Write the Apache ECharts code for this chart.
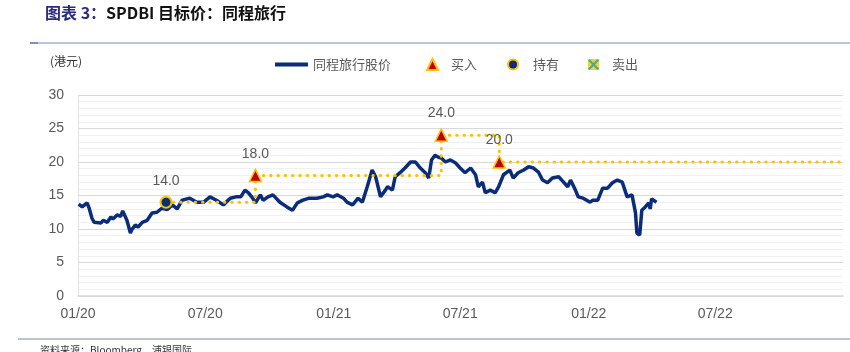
<!DOCTYPE html>
<html>
	<head>
		<meta charset="UTF-8">
		<title>SPDBI 目标价：同程旅行</title>
		<script type="text/javascript" src="https://cdn.jsdelivr.net/npm/echarts@6/dist/echarts.min.js"></script>
		<style>
			html, body { margin: 0; padding: 0; background: #fff; }
		</style>
	</head>
	<body>
		<div id="main" style="height:352px;width:850px"></div>
	</body>
</html>
<script>
	// 股价
	var priceDates = [
		'2020-01-02', '2020-01-07', '2020-01-14', '2020-01-17', '2020-01-21', '2020-01-24', '2020-02-03', '2020-02-06',
		'2020-02-12', '2020-02-17', '2020-02-20', '2020-02-26', '2020-03-02', '2020-03-05', '2020-03-11', '2020-03-16',
		'2020-03-18', '2020-03-23', '2020-03-27', '2020-04-02', '2020-04-09', '2020-04-16', '2020-04-23', '2020-04-30',
		'2020-05-08', '2020-05-15', '2020-05-22', '2020-05-29', '2020-06-09', '2020-06-19', '2020-06-29', '2020-07-08',
		'2020-07-17', '2020-07-27', '2020-08-06', '2020-08-14', '2020-08-21', '2020-08-27', '2020-09-01', '2020-09-07',
		'2020-09-11', '2020-09-18', '2020-09-22', '2020-09-29', '2020-10-06', '2020-10-16', '2020-10-26', '2020-11-03',
		'2020-11-10', '2020-11-18', '2020-11-27', '2020-12-08', '2020-12-17', '2020-12-23', '2020-12-31', '2021-01-06',
		'2021-01-15', '2021-01-20', '2021-01-28', '2021-02-05', '2021-02-11', '2021-02-18', '2021-02-25', '2021-03-02',
		'2021-03-09', '2021-03-16', '2021-03-19', '2021-03-26', '2021-03-30', '2021-04-06', '2021-04-13', '2021-04-21',
		'2021-04-28', '2021-05-05', '2021-05-12', '2021-05-17', '2021-05-21', '2021-05-26', '2021-05-31', '2021-06-04',
		'2021-06-10', '2021-06-17', '2021-06-24', '2021-07-01', '2021-07-08', '2021-07-16', '2021-07-23', '2021-07-27',
		'2021-08-02', '2021-08-06', '2021-08-13', '2021-08-20', '2021-08-25', '2021-09-01', '2021-09-10', '2021-09-15',
		'2021-09-22', '2021-09-30', '2021-10-07', '2021-10-14', '2021-10-21', '2021-10-27', '2021-11-03', '2021-11-10',
		'2021-11-19', '2021-11-26', '2021-12-02', '2021-12-06', '2021-12-13', '2021-12-17', '2021-12-24', '2022-01-03',
		'2022-01-07', '2022-01-14', '2022-01-21', '2022-01-28', '2022-02-04', '2022-02-11', '2022-02-18', '2022-02-25',
		'2022-03-04', '2022-03-09', '2022-03-11', '2022-03-15', '2022-03-18', '2022-03-23', '2022-03-28', '2022-03-30',
		'2022-04-01', '2022-04-08'
	];
	var priceValues = [
		13.7, 13.3, 13.9, 13.1, 11.6, 11.0, 10.9, 11.3,
		11.0, 11.8, 11.5, 12.1, 11.9, 12.7, 11.3, 9.4,
		9.9, 10.6, 10.3, 11.0, 11.3, 12.4, 12.5, 13.1,
		12.9, 13.6, 13.0, 14.3, 14.6, 14.0, 14.0, 14.8,
		14.3, 13.6, 14.6, 14.8, 14.8, 15.8, 15.4, 14.6,
		13.9, 15.1, 14.3, 14.8, 15.1, 14.0, 13.3, 12.8,
		13.9, 14.3, 14.6, 14.6, 14.8, 15.1, 14.8, 15.1,
		14.6, 14.0, 13.6, 14.6, 14.0, 16.3, 18.8, 17.8,
		14.8, 15.8, 16.3, 15.8, 17.8, 18.4, 19.1, 20.0,
		20.0, 19.1, 18.4, 17.6, 20.3, 21.0, 20.7, 20.6,
		20.0, 20.3, 19.9, 19.1, 18.4, 19.1, 18.1, 16.3,
		17.0, 15.4, 15.8, 15.4, 16.3, 18.1, 18.8, 17.6,
		18.4, 18.8, 19.3, 19.1, 18.5, 17.3, 16.9, 17.6,
		17.8, 17.0, 16.3, 17.3, 15.8, 14.8, 14.6, 14.0,
		14.3, 14.3, 16.1, 16.1, 16.9, 17.3, 17.0, 14.8,
		15.1, 12.4, 9.4, 9.1, 12.8, 13.3, 13.9, 13.0,
		14.5, 14.0
	];

	// 评级与目标价
	var targetDates = ['2020-05-06', '2020-09-11', '2021-06-04', '2021-08-26'];
	var targetValues = [14.0, 18.0, 24.0, 20.0];
	var targetRatings = ['持有', '买入', '买入', '买入'];
	var targetEndDate = '2022-12-31';

	// x 轴刻度
	var xStartDate = '2020-01-01';
	var xTickDates = ['2020-01-01', '2020-07-01', '2021-01-01', '2021-07-01', '2022-01-01', '2022-07-01'];

	var grayText = '#595959';
	var navy = '#0b2c7a';
	var gold = '#FFC000';

	// 日期字符串 -> 时间戳（x 轴用数值轴，刻度位置自定义）
	function toTime(s) {
		var p = s.split('-');
		return Date.UTC(+p[0], +p[1] - 1, +p[2]);
	}

	var priceData = priceDates.map(function (d, i) { return [toTime(d), priceValues[i]]; });

	var stepData = targetDates.map(function (d, i) { return [toTime(d), targetValues[i]]; });
	stepData.push([toTime(targetEndDate), targetValues[targetValues.length - 1]]);

	function ratingPoints(rating) {
		var out = [];
		for (var i = 0; i < targetDates.length; i++) {
			if (targetRatings[i] === rating) out.push([toTime(targetDates[i]), targetValues[i]]);
		}
		return out;
	}

	var valueLabel = {
		show: true,
		position: 'top',
		distance: 8,
		color: grayText,
		fontSize: 14,
		fontFamily: 'Liberation Sans',
		formatter: function (p) { return p.value[1].toFixed(1); }
	};

	var legendText = { color: grayText, fontSize: 13, fontFamily: 'Noto Sans CJK SC' };
	var xIcon = 'path://M0,1.4 L1.4,0 L10,8.6 L8.6,10 Z M8.6,0 L10,1.4 L1.4,10 L0,8.6 Z';

	var myChart = echarts.init(document.getElementById('main'));
	var option = {
		animation: false,
		title: {
			left: 40,
			top: 0,
			text: '{a|图表 3：}{b|SPDBI 目标价：同程旅行}',
			textStyle: {
				rich: {
					a: { color: '#2b2b7e', fontSize: 16, fontWeight: 'bold', fontFamily: 'Noto Sans CJK SC' },
					b: { color: '#111', fontSize: 16, fontWeight: 'bold', fontFamily: 'Noto Sans CJK SC' }
				}
			}
		},
		legend: [
			{ left: 270, top: 53, itemWidth: 33, itemHeight: 4, icon: 'rect', data: ['同程旅行股价'], textStyle: legendText },
			{ left: 421, top: 53, itemWidth: 11, itemHeight: 11, data: [{ name: '买入', icon: 'triangle' }], textStyle: Object.assign({ padding: [0, 0, 0, 8] }, legendText) },
			{ left: 502, top: 53, itemWidth: 10, itemHeight: 10, data: [{ name: '持有', icon: 'circle' }], textStyle: Object.assign({ padding: [0, 0, 0, 10] }, legendText) },
			{ left: 583, top: 53, itemWidth: 11, itemHeight: 11, data: [{ name: '卖出', icon: 'rect' }], textStyle: Object.assign({ padding: [0, 0, 0, 8] }, legendText) },
			// 卖出图标上的叉
			{ left: 583, top: 53, itemWidth: 11, itemHeight: 11, selectedMode: false, data: [{ name: '卖出', icon: xIcon, itemStyle: { color: '#1fa3a0', borderWidth: 0 } }], textStyle: Object.assign({ padding: [0, 0, 0, 8] }, legendText, { color: 'rgba(0,0,0,0)' }) }
		],
		grid: { left: 78, right: 7, top: 95, bottom: 56 },
		xAxis: {
			type: 'value',
			min: toTime(xStartDate),
			max: toTime(targetEndDate),
			axisLine: { show: true, onZero: false, lineStyle: { color: '#d9d9d9', width: 1.5 } },
			axisTick: { show: false },
			splitLine: { show: false },
			axisLabel: {
				customValues: xTickDates.map(toTime),
				margin: 11,
				color: grayText,
				fontSize: 14,
				fontFamily: 'Liberation Sans',
				formatter: function (v) {
					var d = new Date(v);
					var m = d.getUTCMonth() + 1;
					return (m < 10 ? '0' + m : m) + '/' + String(d.getUTCFullYear()).slice(2);
				}
			}
		},
		yAxis: {
			type: 'value',
			min: 0,
			max: 30,
			interval: 5,
			axisLine: { show: true, lineStyle: { color: '#e3e3e3' } },
			axisTick: { show: false },
			minorTick: { show: false, splitNumber: 5 },
			splitLine: { lineStyle: { color: '#d9d9d9', width: 1.2 } },
			minorSplitLine: { show: true, lineStyle: { color: '#f0f0f0' } },
			axisLabel: { margin: 14, color: grayText, fontSize: 14, fontFamily: 'Liberation Sans' }
		},
		graphic: [
			{ type: 'line', shape: { x1: 30, y1: 43, x2: 850, y2: 43 }, style: { stroke: '#aab1cf', lineWidth: 1.5 } },
			{ type: 'line', shape: { x1: 30, y1: 43, x2: 38, y2: 43 }, style: { stroke: '#6f7cae', lineWidth: 1.5 } },
			{ type: 'text', left: 50, top: 55, style: { text: '(港元)', fill: '#333', fontSize: 12, fontFamily: 'Noto Sans CJK SC' } },
			{ type: 'line', shape: { x1: 18, y1: 339, x2: 850, y2: 339 }, style: { stroke: '#7f86b2', lineWidth: 1.2 } },
			{ type: 'text', left: 40, top: 345, style: { text: '资料来源：Bloomberg、浦银国际', fill: '#333', fontSize: 10, fontFamily: 'Noto Sans CJK SC' } }
		],
		series: [
			{
				name: '同程旅行股价',
				type: 'line',
				data: priceData,
				showSymbol: false,
				symbol: 'none',
				itemStyle: { color: navy },
				lineStyle: { color: navy, width: 3.5 },
				z: 2
			},
			{
				name: '目标价',
				type: 'line',
				step: 'end',
				data: stepData,
				symbol: 'none',
				lineStyle: { color: gold, width: 3, type: [0.5, 6.8], cap: 'round' },
				z: 3
			},
			{
				name: '买入',
				type: 'scatter',
				symbol: 'triangle',
				symbolSize: 12,
				data: ratingPoints('买入'),
				itemStyle: { color: '#C00000', borderColor: gold, borderWidth: 1.5, opacity: 1 },
				label: valueLabel,
				z: 5
			},
			{
				name: '持有',
				type: 'scatter',
				symbol: 'circle',
				symbolSize: 11,
				data: ratingPoints('持有'),
				itemStyle: { color: '#0b2c7a', borderColor: gold, borderWidth: 2, opacity: 1 },
				label: valueLabel,
				z: 5
			},
			{
				name: '卖出',
				type: 'scatter',
				symbol: 'rect',
				symbolSize: 11,
				data: ratingPoints('卖出'),
				itemStyle: { color: gold },
				z: 5
			}
		]
	};

	myChart.setOption(option);
</script>
